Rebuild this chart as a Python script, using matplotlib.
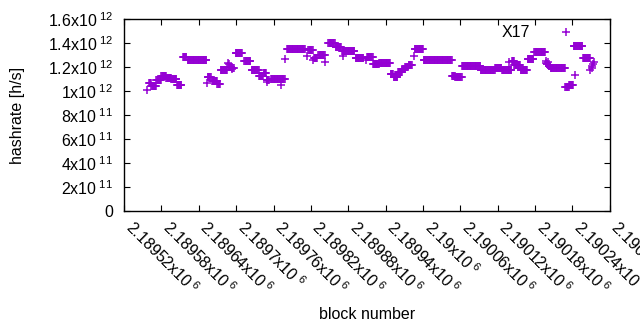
import numpy as np
import matplotlib
matplotlib.use("Agg")
import matplotlib.pyplot as plt

plt.rcParams['font.family'] = ['Liberation Sans', 'DejaVu Sans']
plt.rcParams['mathtext.fontset'] = 'custom'
plt.rcParams['mathtext.rm'] = 'Liberation Sans'
plt.rcParams['mathtext.it'] = 'Liberation Sans'

# runs of blocks sharing the same hashrate (start block, end block, hashrate in 1e12 h/s)
run_start = [2189556, 2189560, 2189564, 2189572, 2189580, 2189588, 2189596, 2189605,
             2189615, 2189622, 2189653, 2189654, 2189661, 2189670, 2189675,
             2189686, 2189687, 2189688, 2189689, 2189693, 2189694,
             2189699, 2189713, 2189725, 2189737, 2189744, 2189749, 2189750,
             2189756, 2189772, 2189779, 2189782, 2189813, 2189816, 2189824,
             2189825, 2189832, 2189843, 2189848, 2189860, 2189870, 2189871,
             2189892, 2189908, 2189910, 2189920, 2189930, 2189948, 2189953,
             2189960, 2189967, 2189972, 2189977, 2189985, 2189987, 2190001,
             2190047, 2190052, 2190063, 2190093, 2190116, 2190127, 2190138,
             2190143, 2190147, 2190157, 2190168, 2190179,
             2190197, 2190198, 2190199, 2190201, 2190202,
             2190205, 2190229, 2190235, 2190244, 2190242, 2190257, 2190269,
             2190271, 2190272, 2190273, 2190275]
run_end = [2189556, 2189563, 2189571, 2189579, 2189587, 2189595, 2189604, 2189612,
           2189620, 2189652, 2189653, 2189659, 2189669, 2189674, 2189685,
           2189686, 2189687, 2189688, 2189692, 2189693, 2189696,
           2189709, 2189723, 2189736, 2189743, 2189748, 2189752, 2189750,
           2189778, 2189772, 2189779, 2189810, 2189813, 2189823, 2189824,
           2189830, 2189842, 2189843, 2189858, 2189868, 2189890, 2189871,
           2189904, 2189908, 2189919, 2189929, 2189947, 2189952, 2189959,
           2189966, 2189971, 2189976, 2189982, 2189985, 2190000, 2190046,
           2190051, 2190062, 2190092, 2190115, 2190126, 2190142, 2190138,
           2190146, 2190156, 2190167, 2190177, 2190196,
           2190197, 2190198, 2190200, 2190201, 2190204,
           2190228, 2190234, 2190241, 2190244, 2190256, 2190268, 2190269,
           2190271, 2190272, 2190273, 2190275]
run_value = [1.008, 1.069, 1.038, 1.092, 1.127, 1.110, 1.097, 1.047,
             1.286, 1.256, 1.064, 1.119, 1.086, 1.058, 1.172,
             1.200, 1.236, 1.222, 1.203, 1.181, 1.192,
             1.314, 1.250, 1.172, 1.125, 1.147, 1.092, 1.078,
             1.103, 1.050, 1.264, 1.347, 1.292, 1.342, 1.258,
             1.272, 1.300, 1.244, 1.403, 1.369, 1.333, 1.292,
             1.272, 1.262, 1.283, 1.222, 1.231, 1.139, 1.119,
             1.158, 1.183, 1.200, 1.217, 1.292, 1.347, 1.258,
             1.128, 1.114, 1.206, 1.172, 1.189, 1.172, 1.244,
             1.250, 1.217, 1.172, 1.264, 1.322,
             1.250, 1.236, 1.222, 1.244, 1.208,
             1.192, 1.036, 1.053, 1.133, 1.372, 1.272, 1.175,
             1.190, 1.208, 1.222, 1.244]

x_ticks = [2189520, 2189580, 2189640, 2189700, 2189760, 2189820, 2189880,
           2189940, 2190000, 2190060, 2190120, 2190180, 2190240, 2190300]
x_tick_labels = ["2.18952x10$^{\\ 6}$", "2.18958x10$^{\\ 6}$", "2.18964x10$^{\\ 6}$",
                 "2.1897x10$^{\\ 6}$", "2.18976x10$^{\\ 6}$", "2.18982x10$^{\\ 6}$",
                 "2.18988x10$^{\\ 6}$", "2.18994x10$^{\\ 6}$", "2.19x10$^{\\ 6}$",
                 "2.19006x10$^{\\ 6}$", "2.19012x10$^{\\ 6}$", "2.19018x10$^{\\ 6}$",
                 "2.19024x10$^{\\ 6}$", "2.1903x10$^{\\ 6}$"]
y_ticks = [0, 2e11, 4e11, 6e11, 8e11, 1e12, 1.2e12, 1.4e12, 1.6e12]
y_tick_labels = ["0", "2x10$^{\\ 11}$", "4x10$^{\\ 11}$", "6x10$^{\\ 11}$", "8x10$^{\\ 11}$",
                 "1x10$^{\\ 12}$", "1.2x10$^{\\ 12}$", "1.4x10$^{\\ 12}$", "1.6x10$^{\\ 12}$"]

blocks = np.concatenate([np.arange(s, e + 1) for s, e in zip(run_start, run_end)])
hashrate = np.concatenate([np.full(e - s + 1, v * 1e12)
                           for s, e, v in zip(run_start, run_end, run_value)])

color = '#9400d3'
fs = 11.5

fig = plt.figure(figsize=(6.4, 3.3), dpi=100)
ax = fig.add_axes([124.1 / 640, (330 - 211) / 330, 485.6 / 640, 192 / 330])
ax.plot(blocks, hashrate, linestyle='none', marker='+', markersize=5.2,
        markeredgewidth=1.1, color=color, label='X17')

ax.set_xlim(2189520, 2190300)
ax.set_ylim(0, 1.6e12)
ax.set_yticks(y_ticks, y_tick_labels, fontsize=fs)
ax.set_xticks(x_ticks, x_tick_labels, fontsize=fs, rotation=-45,
              ha='left', va='baseline', rotation_mode='anchor')
ax.tick_params(direction='in', length=4, width=0.8, top=True, right=True,
               labeltop=False, labelright=False, colors='black')
ax.tick_params(axis='x', pad=13)
ax.tick_params(axis='y', pad=8)
for s in ax.spines.values():
    s.set_linewidth(1.0)
    s.set_color('black')

ax.set_ylabel('hashrate [h/s]', fontsize=fs)
ax.yaxis.set_label_coords(-0.205, 0.5)
ax.set_xlabel('block number', fontsize=fs)
ax.xaxis.set_label_coords(0.5, -0.5)

ax.legend(loc='center right', bbox_to_anchor=(0.9436, 0.9286), frameon=False,
          markerfirst=False, handlelength=2, handletextpad=1.3, borderpad=0,
          borderaxespad=0, fontsize=fs, numpoints=1)

fig.savefig('out.png', dpi=100)
